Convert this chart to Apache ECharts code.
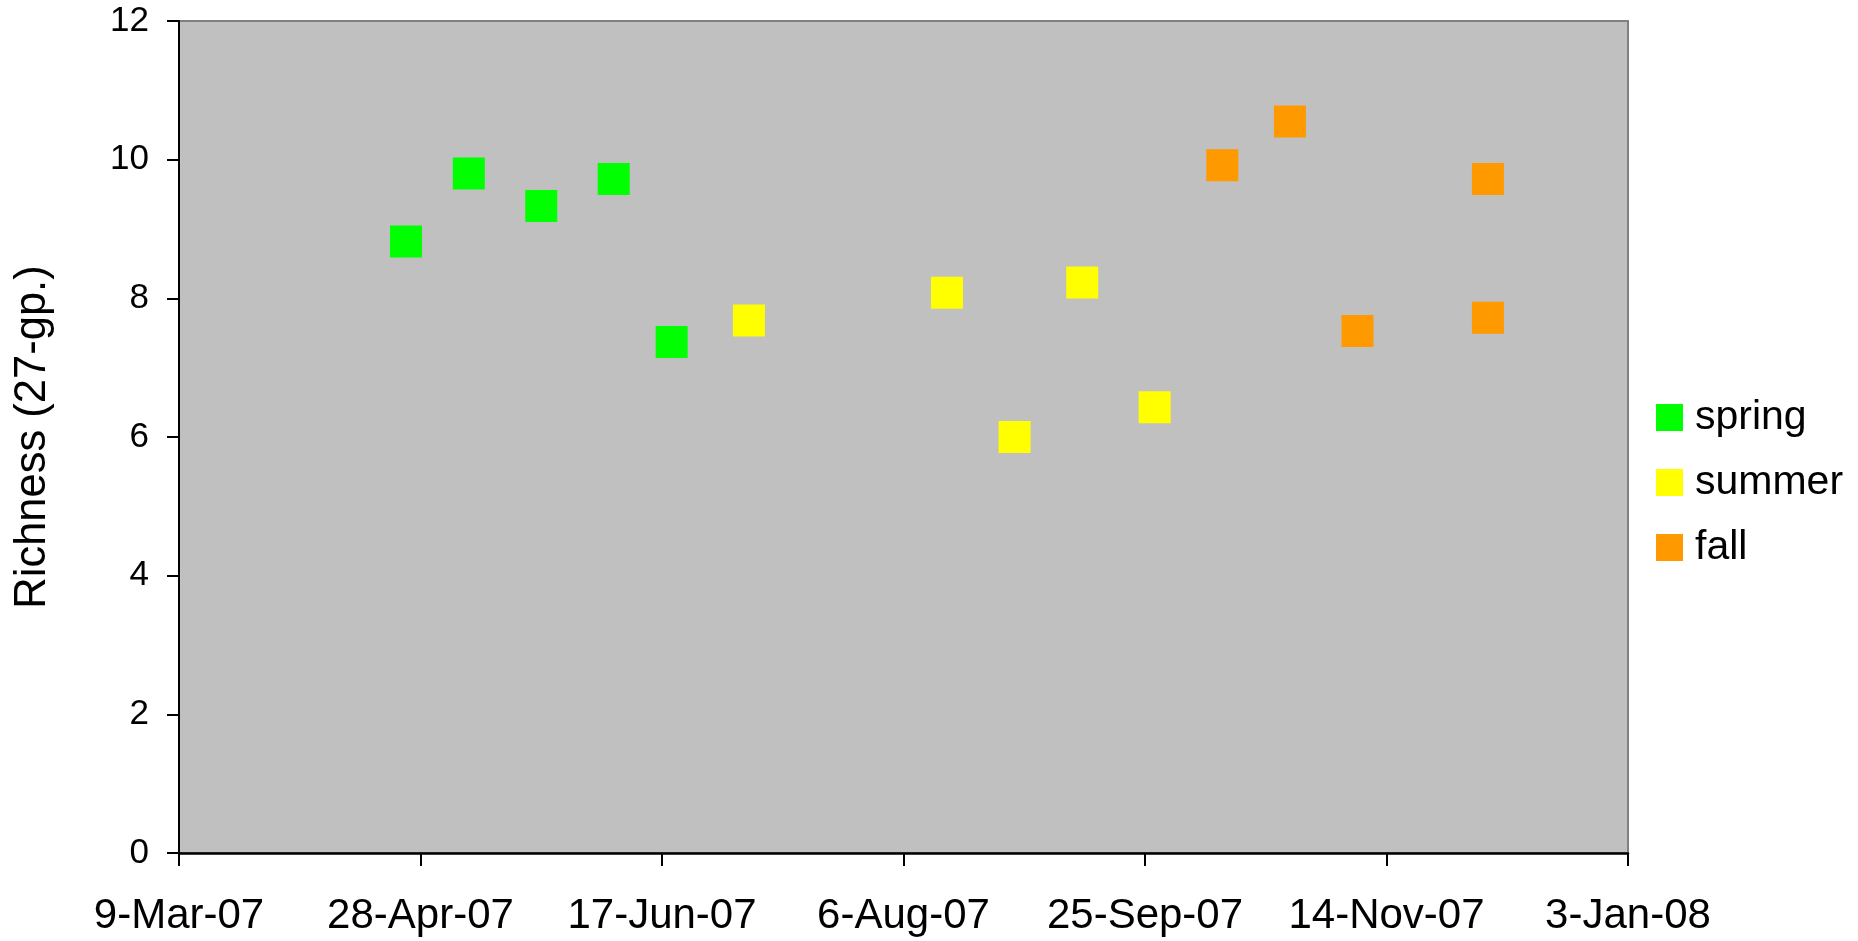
<!DOCTYPE html>
<html>
<head>
<meta charset="utf-8">
<script src="https://cdn.jsdelivr.net/npm/echarts@6/dist/echarts.min.js"></script>
<style>
html,body{margin:0;padding:0;background:#fff;}
#chart{width:1858px;height:941px;}
</style>
</head>
<body>
<div id="chart"></div>
<script>
// ---- data ----
var springDates = ['2007-04-25','2007-05-08','2007-05-23','2007-06-07','2007-06-19'];
var springValues = [8.82, 9.80, 9.33, 9.72, 7.37];
var summerDates = ['2007-07-05','2007-08-15','2007-08-29','2007-09-12','2007-09-27'];
var summerValues = [7.68, 8.08, 6.00, 8.23, 6.43];
var fallDates = ['2007-10-11','2007-10-25','2007-11-08','2007-12-05','2007-12-05'];
var fallValues = [9.92, 10.55, 7.53, 9.72, 7.72];
var xTickLabels = ['9-Mar-07','28-Apr-07','17-Jun-07','6-Aug-07','25-Sep-07','14-Nov-07','3-Jan-08'];
var yTickLabels = ['0','2','4','6','8','10','12'];
var seriesNames = ['spring','summer','fall'];

// Excel serial day numbers
var EPOCH = Date.UTC(1899, 11, 30);
function toSerial(s){
  var p = s.split('-');
  return Math.round((Date.UTC(+p[0], +p[1]-1, +p[2]) - EPOCH) / 86400000);
}
var MON = ['Jan','Feb','Mar','Apr','May','Jun','Jul','Aug','Sep','Oct','Nov','Dec'];
function fmtSerial(v){
  var d = new Date(EPOCH + v * 86400000);
  var yy = String(d.getUTCFullYear() % 100);
  if (yy.length < 2) yy = '0' + yy;
  return d.getUTCDate() + '-' + MON[d.getUTCMonth()] + '-' + yy;
}
function pairs(dates, vals){
  return dates.map(function(d, i){ return [toSerial(d), vals[i]]; });
}
var xMin = toSerial('2007-03-09');
var xMax = toSerial('2008-01-03');

var FONT = '"Liberation Sans", Arial, sans-serif';
var chart = echarts.init(document.getElementById('chart'), null, {renderer:'canvas'});
chart.setOption({
  animation: false,
  backgroundColor: '#ffffff',
  grid: {
    left: 179, top: 21, width: 1449, height: 832,
    show: true, backgroundColor: '#C0C0C0',
    borderColor: '#808080', borderWidth: 2
  },
  legend: {
    orient: 'vertical',
    left: 1651, top: 392,
    itemWidth: 27, itemHeight: 27, itemGap: 24,
    icon: 'rect',
    data: seriesNames,
    textStyle: { fontFamily: FONT, fontSize: 41, color: '#000', lineHeight: 41, padding: [0,0,0,7] }
  },
  xAxis: {
    type: 'value',
    min: xMin, max: xMax, interval: 50,
    axisLine: { show: true, lineStyle: { color: '#000', width: 2.5 } },
    axisTick: { show: true, inside: false, length: 13, lineStyle: { color: '#000', width: 2 } },
    splitLine: { show: false },
    axisLabel: {
      margin: 42,
      fontFamily: FONT, fontSize: 42, color: '#000',
      formatter: function(v){
        var i = Math.round((v - xMin) / 50);
        return xTickLabels[i] !== undefined ? xTickLabels[i] : fmtSerial(v);
      }
    }
  },
  yAxis: {
    type: 'value',
    min: 0, max: 12, interval: 2,
    name: 'Richness (27-gp.)',
    nameLocation: 'middle',
    nameGap: 124,
    nameRotate: 90,
    nameTextStyle: { fontFamily: FONT, fontSize: 43.5, color: '#000' },
    axisLine: { show: true, lineStyle: { color: '#000', width: 2 } },
    axisTick: { show: true, inside: false, length: 12, lineStyle: { color: '#000', width: 2 } },
    splitLine: { show: false },
    axisLabel: {
      margin: 30,
      fontFamily: FONT, fontSize: 35, color: '#000',
      formatter: function(v){ return yTickLabels[Math.round(v/2)]; }
    }
  },
  series: [
    { name: seriesNames[0], type: 'scatter', symbol: 'rect', symbolSize: 32,
      itemStyle: { color: '#00FF00', opacity: 1 }, data: pairs(springDates, springValues) },
    { name: seriesNames[1], type: 'scatter', symbol: 'rect', symbolSize: 32,
      itemStyle: { color: '#FFFF00', opacity: 1 }, data: pairs(summerDates, summerValues) },
    { name: seriesNames[2], type: 'scatter', symbol: 'rect', symbolSize: 32,
      itemStyle: { color: '#FF9900', opacity: 1 }, data: pairs(fallDates, fallValues) }
  ]
});
</script>
</body>
</html>
